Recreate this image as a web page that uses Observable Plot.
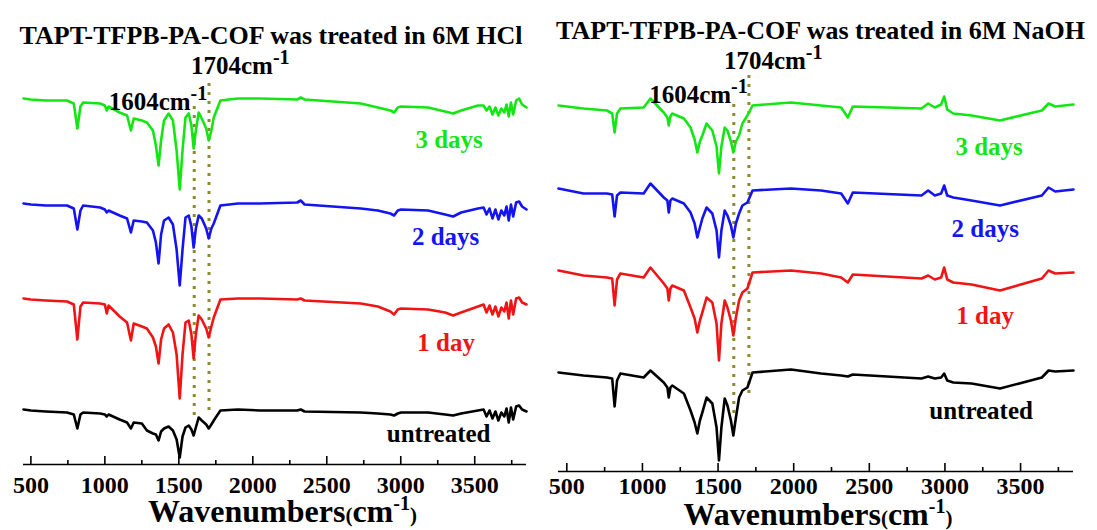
<!DOCTYPE html>
<html>
<head>
<meta charset="utf-8">
<script src="https://cdn.jsdelivr.net/npm/d3@7"></script>
<script src="https://cdn.jsdelivr.net/npm/@observablehq/plot@0.6"></script>
<style>
  body { margin: 0; background: #fff; }
  #wrap { position: relative; width: 1097px; height: 530px; overflow: hidden; }
  #wrap > div { position: absolute; top: 0; }
  #hcl { left: 0; }
  #naoh { left: 548px; }
</style>
</head>
<body>
<div id="wrap"><div id="hcl"></div><div id="naoh"></div></div>
<script>
// FTIR spectra of TAPT-TFPB-PA-COF after acid / base treatment (transmittance, a.u., stacked)
const seriesNames = ["3 days", "2 days", "1 day", "untreated"];
const seriesColors = ["#14e614", "#1414f0", "#f01414", "#000000"];
const majorTicks = [500, 1000, 1500, 2000, 2500, 3000, 3500];
const minorTicks = [750, 1250, 1750, 2250, 2750, 3250, 3750];
const markerBands = [1604, 1704];

// ---- 6M HCl ----
const hclWavenumber = [450, 500, 600, 744, 790, 814, 835, 853, 968, 1000,
  1013, 1025, 1100, 1150, 1176, 1195, 1250, 1284, 1325, 1345,
  1363, 1380, 1400, 1431, 1460, 1485, 1506, 1525, 1545, 1567,
  1585, 1600, 1615, 1634, 1655, 1685, 1702, 1720, 1736, 1781,
  1900, 2050, 2300, 2324, 2350, 2730, 2845, 2930, 2955, 2980,
  3002, 3185, 3300, 3354, 3408, 3522, 3560, 3580, 3600, 3620,
  3640, 3660, 3680, 3700, 3715, 3730, 3745, 3760, 3780, 3800,
  3820, 3850];
const hcl3days = [366, 365, 364, 364, 361, 336, 358, 362, 361, 359,
  354, 358, 352, 349, 334, 346, 344, 342, 334, 319,
  299, 324, 344, 351, 344, 314, 275, 314, 347, 351,
  339, 316, 334, 352, 346, 336, 324, 334, 347, 364,
  366, 366, 365, 367, 365, 361, 357, 354, 352, 357,
  358, 357, 353, 351, 354, 359, 359, 354, 358, 350,
  357, 349, 356, 352, 360, 348, 362, 350, 364, 366,
  360, 357];
const hcl2days = [261, 260, 259, 259, 256, 235, 254, 259, 257, 255,
  252, 254, 249, 246, 232, 244, 243, 242, 234, 222,
  201, 230, 244, 247, 240, 215, 179, 215, 247, 249,
  238, 217, 236, 249, 246, 236, 226, 236, 241, 259,
  261, 261, 262, 264, 260, 256, 254, 251, 249, 254,
  255, 254, 250, 248, 252, 256, 257, 250, 256, 246,
  255, 245, 254, 249, 258, 244, 260, 248, 262, 263,
  258, 255];
const hcl1day = [166, 165, 164, 163, 160, 125, 158, 162, 161, 160,
  151, 159, 148, 142, 124, 141, 138, 136, 127, 118,
  101, 125, 136, 140, 132, 110, 66, 110, 142, 144,
  130, 106, 130, 149, 145, 136, 127, 138, 147, 165,
  166, 166, 165, 166, 164, 161, 158, 153, 150, 155,
  156, 155, 152, 149, 152, 158, 160, 152, 159, 150,
  158, 148, 157, 153, 162, 146, 164, 150, 166, 167,
  162, 160];
const hclUntreated = [55, 54, 53, 52, 50, 36, 50, 52, 51, 50,
  48, 50, 45, 42, 36, 42, 41, 34, 31, 30,
  24, 33, 36, 38, 34, 25, 7, 28, 37, 39,
  35, 29, 37, 47, 44, 40, 36, 40, 44, 54,
  55, 54, 54, 55, 53, 52, 51, 50, 49, 51,
  52, 52, 50, 49, 51, 54, 55, 48, 54, 46,
  53, 44, 52, 48, 56, 42, 57, 45, 58, 59,
  55, 53];
const hclLabelX = [3327, 3303, 3307, 3256];
const hclLabelY = [317, 220, 114, 23];

// ---- 6M NaOH ----
const naohWavenumber = [445, 610, 765, 800, 816, 832, 854, 1008, 1053, 1141,
  1165, 1174, 1185, 1197, 1274, 1318, 1345, 1363, 1380, 1396,
  1424, 1462, 1490, 1506, 1522, 1544, 1562, 1585, 1601, 1618,
  1639, 1661, 1694, 1728, 1982, 2181, 2314, 2358, 2391, 2845,
  2889, 2933, 2975, 2995, 3015, 3055, 3176, 3364, 3641, 3685,
  3729, 3850];
const naoh3days = [366, 363, 361, 358, 339, 358, 363, 364, 373, 359,
  354, 346, 355, 358, 353, 344, 332, 319, 330, 336,
  348, 341, 325, 298, 325, 344, 341, 330, 319, 330,
  336, 348, 356, 366, 369, 366, 364, 354, 365, 363,
  368, 364, 367, 375, 362, 358, 356, 351, 361, 368,
  365, 367];
const naoh2days = [283, 278, 278, 277, 255, 276, 279, 278, 288, 274,
  271, 259, 271, 273, 268, 259, 248, 234, 244, 253,
  264, 258, 241, 214, 241, 261, 256, 246, 234, 248,
  258, 266, 269, 281, 283, 281, 278, 268, 279, 276,
  281, 276, 278, 286, 276, 274, 271, 266, 276, 284,
  280, 282];
const naoh1day = [201, 196, 194, 193, 166, 192, 198, 194, 204, 188,
  183, 171, 183, 186, 181, 164, 153, 139, 151, 159,
  174, 169, 148, 111, 148, 171, 164, 151, 136, 154,
  171, 179, 183, 199, 201, 198, 194, 189, 197, 193,
  196, 192, 194, 204, 192, 189, 187, 181, 193, 201,
  198, 199];
const naohUntreated = [99, 96, 94, 93, 65, 91, 98, 94, 101, 89,
  84, 74, 84, 86, 78, 61, 49, 38, 51, 59,
  74, 68, 44, 11, 44, 73, 66, 51, 36, 54,
  74, 81, 84, 99, 102, 98, 96, 95, 97, 93,
  95, 93, 94, 98, 91, 89, 88, 83, 94, 101,
  100, 101];
const naohLabelX = [3292, 3266, 3266, 3239];
const naohLabelY = [317, 235, 148, 53];

const FONT = "'Liberation Serif', 'Times New Roman', serif";
const OLIVE = "#8c8a2e";

// labels that carry a superscript: [text, font size, baseline rise]
const RICH = {
  "Wavenumbers(cm-1)": [["Wavenumbers", 32, 0], ["(", 21, 0], ["cm", 32, 0], ["-1", 20, -12], [")", 21, 0]],
  "1604cm-1": [["1604cm", 25, 0], ["-1", 20, -10]],
  "1704cm-1": [["1704cm", 25, 0], ["-1", 20, -10]]
};

function applyRichText(svg) {
  const ns = "http://www.w3.org/2000/svg";
  svg.querySelectorAll("text").forEach((t) => {
    const spec = RICH[t.textContent];
    if (!spec) return;
    t.textContent = "";
    let rise = 0;
    for (const [s, size, r] of spec) {
      const ts = document.createElementNS(ns, "tspan");
      ts.setAttribute("font-size", size);
      ts.setAttribute("dy", r - rise);
      rise = r;
      ts.textContent = s;
      t.appendChild(ts);
    }
  });
}

function panel(cfg) {
  const rows = cfg.values.flatMap((vals, k) =>
    cfg.wavenumber.map((x, i) => ({x, y: vals[i], name: seriesNames[k]})));
  const labels = seriesNames.map((name, k) => ({name, x: cfg.labelX[k], y: cfg.labelY[k]}));
  const innerH = 530 - cfg.marginTop - cfg.marginBottom;
  const svg = Plot.plot({
    width: cfg.width,
    height: 530,
    marginLeft: cfg.marginLeft,
    marginRight: cfg.marginRight,
    marginTop: cfg.marginTop,
    marginBottom: cfg.marginBottom,
    style: {fontFamily: FONT, background: "transparent", overflow: "visible"},
    x: {domain: cfg.domain},
    y: {domain: [0, 400], axis: null},
    color: {domain: seriesNames, range: seriesColors},
    marks: [
      // marker bands at 1604 and 1704 cm-1
      Plot.ruleX(markerBands, {x: (d) => d, y1: (d, i) => cfg.bandBottom[i], y2: (d, i) => cfg.bandTop[i],
        stroke: OLIVE, strokeWidth: 3, strokeDasharray: "3,6"}),
      Plot.line(rows, {x: "x", y: "y", stroke: "name", strokeWidth: 2.6, strokeLinejoin: "round"}),
      // bottom axis with inward ticks
      Plot.ruleY([0], {stroke: "#000", strokeWidth: 1.6}),
      Plot.ruleX(majorTicks, {insetTop: innerH - 8, stroke: "#000", strokeWidth: 1.6}),
      Plot.ruleX(minorTicks, {insetTop: innerH - 4, stroke: "#000", strokeWidth: 1.6}),
      Plot.axisX({ticks: majorTicks, tickFormat: (d) => String(d), tickSize: 0, tickPadding: cfg.tickPadding,
        fontSize: 24, fontWeight: "bold", fill: "#000", label: null}),
      Plot.text(["Wavenumbers(cm-1)"], {frameAnchor: "bottom", lineAnchor: "bottom", dx: cfg.xlabelDx, dy: cfg.xlabelDy,
        fontSize: 32, fontWeight: "bold", fill: "#000"}),
      // series names
      Plot.text(labels, {x: "x", y: "y", text: "name", fill: "name", lineAnchor: "bottom",
        fontSize: 25, fontWeight: "bold"}),
      // band annotations
      Plot.text([cfg.note1604], {x: 1604, y: (d) => d, text: () => "1604cm-1", textAnchor: "end", lineAnchor: "bottom",
        dx: cfg.note1604dx, fontSize: 25, fontWeight: "bold", fill: "#000"}),
      Plot.text([cfg.note1704], {x: 1704, y: (d) => d, text: () => "1704cm-1", textAnchor: "start", lineAnchor: "bottom",
        dx: cfg.note1704dx, fontSize: 25, fontWeight: "bold", fill: "#000"}),
      // panel title
      Plot.text([cfg.title], {frameAnchor: "top", lineAnchor: "bottom", dx: cfg.titleDx, dy: cfg.titleDy,
        fontSize: 26, fontWeight: "bold", fill: "#000"})
    ]
  });
  applyRichText(svg);
  return svg;
}

document.getElementById("hcl").appendChild(panel({
  title: "TAPT-TFPB-PA-COF was treated in 6M HCl",
  wavenumber: hclWavenumber,
  values: [hcl3days, hcl2days, hcl1day, hclUntreated],
  labelX: hclLabelX, labelY: hclLabelY,
  domain: [450, 3850],
  width: 548, marginLeft: 23, marginRight: 22, marginTop: 64, marginBottom: 66,
  tickPadding: 11, xlabelDx: 7.5, xlabelDy: 57, titleDx: -4, titleDy: -21,
  bandBottom: [49, 54], bandTop: [364, 384],
  note1604: 355, note1604dx: 13, note1704: 391, note1704dx: -18
}));

document.getElementById("naoh").appendChild(panel({
  title: "TAPT-TFPB-PA-COF was treated in 6M NaOH",
  wavenumber: naohWavenumber,
  values: [naoh3days, naoh2days, naoh1day, naohUntreated],
  labelX: naohLabelX, labelY: naohLabelY,
  domain: [445, 3850],
  width: 549, marginLeft: 10, marginRight: 24, marginTop: 71, marginBottom: 59,
  tickPadding: 5, xlabelDx: 2, xlabelDy: 53, titleDx: 4.5, titleDy: -33,
  bandBottom: [58, 78], bandTop: [368, 401],
  note1604: 369, note1604dx: 14, note1704: 403, note1704dx: -25
}));
</script>
</body>
</html>
